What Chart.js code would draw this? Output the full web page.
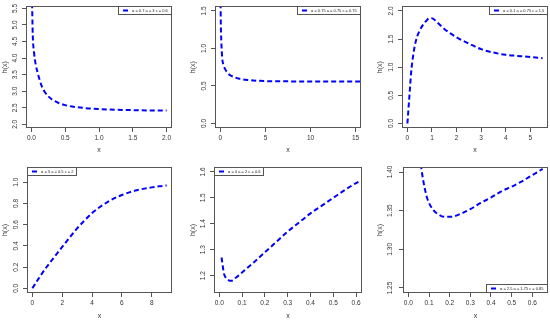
<!DOCTYPE html>
<html>
<head>
<meta charset="utf-8">
<script src="https://cdn.jsdelivr.net/npm/chart.js@4.4.0/dist/chart.umd.min.js"></script>
<style>
  body { margin: 0; background: #fff; width: 550px; height: 320px; overflow: hidden; position: relative; }
  canvas { position: absolute; }
</style>
</head>
<body>
<canvas id="c1" width="188" height="160" style="left:0;top:0"></canvas>
<canvas id="c2" width="187" height="160" style="left:188px;top:0"></canvas>
<canvas id="c3" width="175" height="160" style="left:375px;top:0"></canvas>
<canvas id="c4" width="188" height="160" style="left:0;top:160px"></canvas>
<canvas id="c5" width="187" height="160" style="left:188px;top:160px"></canvas>
<canvas id="c6" width="175" height="160" style="left:375px;top:160px"></canvas>
<script>
// panel 1
const p1Label = "α = 0.7 a = 3 c = 0.6";
const p1X = [0.01, 0.02, 0.04, 0.06, 0.1, 0.15, 0.2, 0.3, 0.4, 0.5, 0.6, 0.8, 1.0, 1.25, 1.5, 1.75, 2.0];
const p1Y = [5.65, 4.7, 4.15, 3.85, 3.5, 3.17, 2.97, 2.76, 2.65, 2.58, 2.54, 2.49, 2.46, 2.44, 2.43, 2.42, 2.42];
const p1XTicks = ["0.0", "0.5", "1.0", "1.5", "2.0"];
const p1YTicks = ["2.0", "2.5", "3.0", "3.5", "4.0", "4.5", "5.0", "5.5"];

// panel 2
const p2Label = "α = 0.75 a = 0.75 c = 0.75";
const p2X = [0.02, 0.05, 0.1, 0.2, 0.35, 0.5, 0.75, 1, 1.5, 2, 3, 4, 5, 7, 10, 13, 15.5];
const p2Y = [1.6, 1.3, 1.1, 0.87, 0.78, 0.73, 0.68, 0.65, 0.62, 0.6, 0.58, 0.57, 0.565, 0.562, 0.56, 0.56, 0.56];
const p2XTicks = ["0", "5", "10", "15"];
const p2YTicks = ["0.0", "0.5", "1.0", "1.5"];

// panel 3
const p3Label = "α = 0.1 a = 0.75 c = 1.5";
const p3X = [0, 0.05, 0.1, 0.15, 0.2, 0.3, 0.4, 0.5, 0.6, 0.7, 0.8, 0.9, 1.0, 1.2, 1.5, 1.75, 2.0, 2.5, 3.0, 3.5, 4.0, 4.5, 5.0, 5.5];
const p3Y = [0, 0.3, 0.6, 0.9, 1.1, 1.38, 1.55, 1.65, 1.73, 1.79, 1.84, 1.87, 1.87, 1.8, 1.68, 1.6, 1.53, 1.42, 1.32, 1.26, 1.22, 1.2, 1.18, 1.16];
const p3XTicks = ["0", "1", "2", "3", "4", "5"];
const p3YTicks = ["0.0", "0.5", "1.0", "1.5", "2.0"];

// panel 4
const p4Label = "α = 3 a = 0.5 c = 2";
const p4X = [0, 0.5, 1, 1.5, 2, 2.5, 3, 3.5, 4, 4.5, 5, 5.5, 6, 6.5, 7, 7.5, 8, 8.5, 9];
const p4Y = [0, 0.11, 0.21, 0.30, 0.39, 0.48, 0.565, 0.64, 0.71, 0.765, 0.81, 0.85, 0.88, 0.905, 0.925, 0.94, 0.952, 0.962, 0.97];
const p4XTicks = ["0", "2", "4", "6", "8"];
const p4YTicks = ["0.0", "0.2", "0.4", "0.6", "0.8", "1.0"];

// panel 5
const p5Label = "α = 4 a = 2 c = 0.6";
const p5X = [0.01, 0.015, 0.02, 0.03, 0.04, 0.05, 0.06, 0.07, 0.08, 0.1, 0.15, 0.2, 0.25, 0.3, 0.35, 0.4, 0.45, 0.5, 0.55, 0.6, 0.62];
const p5Y = [1.27, 1.24, 1.21, 1.19, 1.183, 1.18, 1.182, 1.19, 1.197, 1.212, 1.25, 1.29, 1.33, 1.37, 1.405, 1.44, 1.47, 1.5, 1.53, 1.557, 1.566];
const p5XTicks = ["0.0", "0.1", "0.2", "0.3", "0.4", "0.5", "0.6"];
const p5YTicks = ["1.2", "1.3", "1.4", "1.5", "1.6"];

// panel 6
const p6Label = "α = 2.5 a = 1.75 c = 0.85";
const p6X = [0.06, 0.07, 0.08, 0.09, 0.1, 0.12, 0.14, 0.16, 0.18, 0.2, 0.22, 0.25, 0.3, 0.35, 0.4, 0.45, 0.5, 0.55, 0.6, 0.65];
const p6Y = [1.41, 1.392, 1.378, 1.367, 1.36, 1.351, 1.346, 1.343, 1.342, 1.342, 1.3425, 1.3455, 1.352, 1.36, 1.367, 1.375, 1.381, 1.388, 1.396, 1.404];
const p6XTicks = ["0.0", "0.1", "0.2", "0.3", "0.4", "0.5", "0.6"];
const p6YTicks = ["1.25", "1.30", "1.35", "1.40"];

const FONT = '"Liberation Sans", Arial, sans-serif';

// draws the R style box and the legend inside the plot area
const boxPlugin = {
  id: "rbox",
  afterDraw(chart, args, opts) {
    const { ctx, chartArea: a } = chart;
    ctx.save();
    ctx.strokeStyle = "#555";
    ctx.lineWidth = 1;
    ctx.strokeRect(Math.round(a.left) + 0.5, Math.round(a.top) + 0.5,
      Math.round(a.right - a.left) - 1, Math.round(a.bottom - a.top) - 1);

    const label = chart.data.datasets[0].label;
    ctx.font = "4px " + FONT;
    const w = Math.round(ctx.measureText(label).width) + 18;
    const h = 9;
    const x = opts.pos.includes("right") ? Math.round(a.right) - w : Math.round(a.left);
    const y = opts.pos.includes("top") ? Math.round(a.top) : Math.round(a.bottom) - h;
    ctx.fillStyle = "#fff";
    ctx.fillRect(x, y, w, h);
    ctx.strokeStyle = "#555";
    ctx.strokeRect(x + 0.5, y + 0.5, w - 1, h - 1);
    ctx.strokeStyle = "#0000ff";
    ctx.lineWidth = 2;
    ctx.beginPath();
    ctx.moveTo(x + 5, y + h / 2);
    ctx.lineTo(x + 10, y + h / 2);
    ctx.stroke();
    ctx.fillStyle = "#222";
    ctx.textBaseline = "middle";
    ctx.fillText(label, x + 14, y + h / 2 + 0.5);
    ctx.restore();
  },
};

function makePanel(id, xs, ys, label, xTicks, yTicks, xr, yr, lay) {
  const pts = xs.map((x, i) => ({ x, y: ys[i] }));
  return new Chart(document.getElementById(id), {
    type: "line",
    data: {
      datasets: [{
        label,
        data: pts,
        borderColor: "#0000ff",
        borderWidth: 2,
        borderDash: [5, 3],
        pointRadius: 0,
        cubicInterpolationMode: "monotone",
        fill: false,
      }],
    },
    options: {
      responsive: false,
      animation: false,
      events: [],
      layout: { padding: { left: 0, right: lay.right, top: lay.top, bottom: 0 } },
      plugins: {
        legend: { display: false },
        tooltip: { enabled: false },
        rbox: { pos: lay.legend },
      },
      scales: {
        x: {
          type: "linear",
          min: xr[0],
          max: xr[1],
          afterBuildTicks: (s) => { s.ticks = xTicks.map((t) => ({ value: parseFloat(t) })); },
          afterFit: (s) => { s.height = lay.xh; },
          ticks: {
            callback: (v, i) => xTicks[i],
            font: { size: 6.5, family: FONT },
            color: "#333",
            padding: 2,
            maxRotation: 0,
          },
          grid: { drawOnChartArea: false, drawTicks: true, tickLength: 4, color: "#555" },
          border: { display: false },
          title: { display: true, text: "x", font: { size: 7, family: FONT }, color: "#333", padding: { top: 0, bottom: lay.xt } },
        },
        y: {
          type: "linear",
          min: yr[0],
          max: yr[1],
          afterBuildTicks: (s) => { s.ticks = yTicks.map((t) => ({ value: parseFloat(t) })); },
          afterFit: (s) => { s.width = lay.yw; },
          ticks: {
            callback: (v, i) => yTicks[i],
            font: { size: 6.5, family: FONT },
            color: "#333",
            padding: 2.5,
            minRotation: 90,
            maxRotation: 90,
            crossAlign: "center",
          },
          grid: { drawOnChartArea: false, drawTicks: true, tickLength: 4, color: "#555" },
          border: { display: false },
          title: { display: true, text: "h(x)", font: { size: 7, family: FONT }, color: "#333", padding: { top: 1, bottom: 0 } },
        },
      },
    },
    plugins: [boxPlugin],
  });
}

makePanel("c1", p1X, p1Y, p1Label, p1XTicks, p1YTicks, [-0.08, 2.08], [1.89, 5.56],
  { yw: 26, right: 16, top: 2, xh: 32, xt: 6, legend: "topright" });
makePanel("c2", p2X, p2Y, p2Label, p2XTicks, p2YTicks, [-0.6, 15.6], [-0.06, 1.56],
  { yw: 27, right: 14, top: 2, xh: 32, xt: 6, legend: "topright" });
makePanel("c3", p3X, p3Y, p3Label, p3XTicks, p3YTicks, [-0.22, 5.72], [-0.08, 2.08],
  { yw: 27, right: 2, top: 2, xh: 32, xt: 6, legend: "topright" });
makePanel("c4", p4X, p4Y, p4Label, p4XTicks, p4YTicks, [-0.36, 9.36], [-0.044, 1.144],
  { yw: 27, right: 16, top: 7, xh: 27, xt: 0, legend: "topleft" });
makePanel("c5", p5X, p5Y, p5Label, p5XTicks, p5YTicks, [-0.023, 0.626], [1.133, 1.619],
  { yw: 26, right: 13, top: 7, xh: 27, xt: 0, legend: "topleft" });
makePanel("c6", p6X, p6Y, p6Label, p6XTicks, p6YTicks, [-0.026, 0.676], [1.2435, 1.4065],
  { yw: 28, right: 2, top: 7, xh: 27, xt: 0, legend: "bottomright" });
</script>
</body>
</html>
